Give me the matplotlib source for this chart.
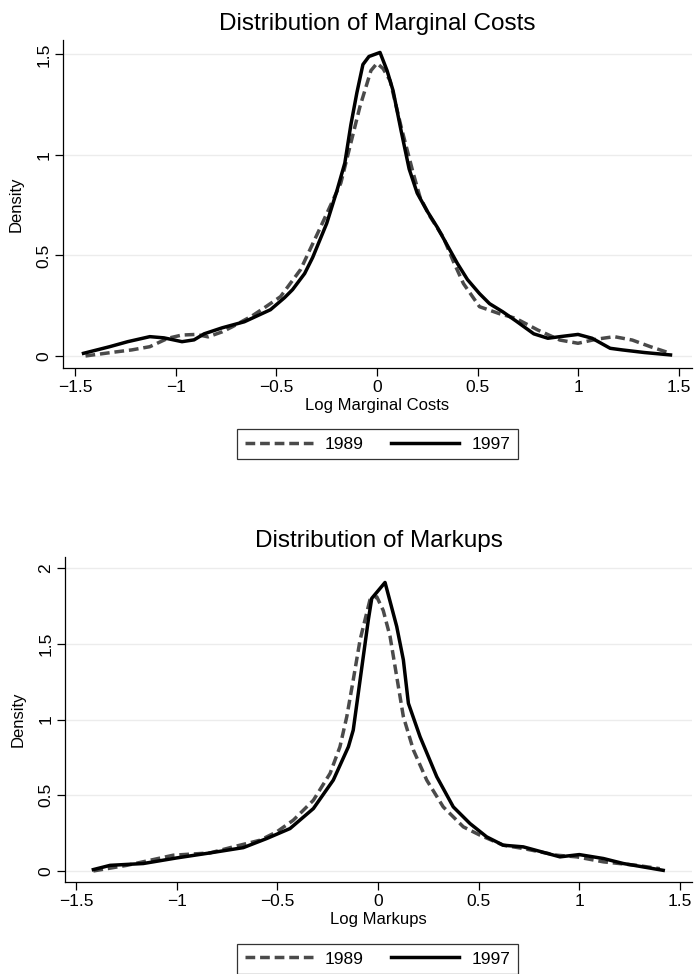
import numpy as np
import matplotlib.pyplot as plt

plt.rcParams['font.family'] = ['Liberation Sans', 'DejaVu Sans']

# Distribution of log marginal costs (kernel densities)
mc_x_1989 = [-1.45, -1.30, -1.22, -1.13, -1.04, -0.97, -0.90, -0.84, -0.77, -0.72,
             -0.62, -0.56, -0.48, -0.38, -0.28, -0.18, -0.085, -0.03, 0.0, 0.03,
             0.065, 0.12, 0.18, 0.214, 0.26, 0.33, 0.38, 0.43, 0.51, 0.61,
             0.69, 0.80, 0.91, 1.0, 1.09, 1.18, 1.27, 1.36, 1.46]
mc_y_1989 = [0.0, 0.02, 0.03, 0.046, 0.088, 0.104, 0.107, 0.095, 0.12, 0.145,
             0.2, 0.24, 0.295, 0.43, 0.643, 0.86, 1.24, 1.42, 1.456, 1.43,
             1.37, 1.14, 0.91, 0.79, 0.70, 0.59, 0.47, 0.36, 0.245, 0.21,
             0.187, 0.129, 0.079, 0.063, 0.083, 0.096, 0.079, 0.046, 0.013]
mc_x_1997 = [-1.46, -1.33, -1.24, -1.13, -1.06, -0.97, -0.91, -0.86, -0.77, -0.66,
             -0.53, -0.46, -0.42, -0.36, -0.32, -0.25, -0.20, -0.16, -0.13, -0.10,
             -0.07, -0.04, 0.015, 0.05, 0.08, 0.12, 0.16, 0.20, 0.25, 0.30,
             0.35, 0.40, 0.45, 0.51, 0.56, 0.625, 0.69, 0.78, 0.85, 0.91,
             1.0, 1.07, 1.16, 1.22, 1.33, 1.46]
mc_y_1997 = [0.013, 0.046, 0.071, 0.096, 0.09, 0.071, 0.08, 0.11, 0.14, 0.17,
             0.23, 0.29, 0.33, 0.41, 0.49, 0.66, 0.82, 0.96, 1.15, 1.31,
             1.45, 1.49, 1.51, 1.42, 1.32, 1.12, 0.93, 0.81, 0.72, 0.64,
             0.55, 0.46, 0.38, 0.31, 0.26, 0.22, 0.175, 0.11, 0.088, 0.096,
             0.107, 0.088, 0.038, 0.03, 0.017, 0.005]

# Distribution of log markups
mu_x_1989 = [-1.414, -1.248, -1.017, -0.835, -0.719, -0.586, -0.503, -0.421, -0.321, -0.238,
             -0.189, -0.155, -0.123, -0.089, -0.040, -0.006, 0.026, 0.06, 0.093, 0.126,
             0.176, 0.242, 0.324, 0.424, 0.507, 0.622, 0.722, 0.888, 0.987, 1.12,
             1.285, 1.40]
mu_y_1989 = [0.0, 0.037, 0.104, 0.119, 0.159, 0.203, 0.258, 0.335, 0.467, 0.644,
             0.82, 1.019, 1.261, 1.526, 1.79, 1.81, 1.72, 1.548, 1.283, 1.019,
             0.798, 0.6, 0.423, 0.291, 0.236, 0.17, 0.148, 0.104, 0.093, 0.06,
             0.037, 0.015]
mu_x_1997 = [-1.414, -1.331, -1.166, -1.0, -0.835, -0.669, -0.553, -0.437, -0.321, -0.222,
             -0.147, -0.123, -0.098, -0.073, -0.048, -0.031, 0.035, 0.093, 0.126, 0.151,
             0.209, 0.292, 0.374, 0.457, 0.54, 0.622, 0.722, 0.904, 1.0, 1.12,
             1.219, 1.417]
mu_y_1997 = [0.009, 0.037, 0.049, 0.086, 0.119, 0.154, 0.214, 0.28, 0.412, 0.6,
             0.82, 0.93, 1.173, 1.416, 1.658, 1.80, 1.905, 1.614, 1.394, 1.107,
             0.886, 0.622, 0.423, 0.313, 0.225, 0.17, 0.159, 0.093, 0.108, 0.082,
             0.049, 0.004]

x_ticks = [-1.5, -1, -0.5, 0, 0.5, 1, 1.5]
x_tick_labels = ['\u22121.5', '\u22121', '\u22120.5', '0', '0.5', '1', '1.5']
mc_y_ticks = [0, 0.5, 1, 1.5]
mu_y_ticks = [0, 0.5, 1, 1.5, 2]

fig = plt.figure(figsize=(6.98, 9.74), dpi=100)
W, H = 698, 974


def panel(rect_px, title, xlabel, x89, y89, x97, y97, yticks, xlim, ylim, legend_y):
    l, t, r, b = rect_px
    ax = fig.add_axes([l / W, 1 - b / H, (r - l) / W, (b - t) / H])
    ln89, = ax.plot(x89, y89, color='#4a4a4a', lw=2.5, dashes=(2.8, 1.4), label='1989')
    ln97, = ax.plot(x97, y97, color='black', lw=2.5, label='1997')
    ax.set_xlim(*xlim)
    ax.set_ylim(*ylim)
    ax.set_xticks(x_ticks)
    ax.set_xticklabels(x_tick_labels)
    ax.set_yticks(yticks)
    ax.set_yticklabels([('%g' % v) for v in yticks], rotation=90, va='center')
    ax.tick_params(axis='both', direction='out', length=5.5, width=0.9,
                   labelsize=12.5, color='black', pad=3)
    ax.grid(axis='y', color='#ececec', lw=1)
    ax.set_axisbelow(True)
    for s in ['top', 'right']:
        ax.spines[s].set_visible(False)
    for s in ['left', 'bottom']:
        ax.spines[s].set_linewidth(0.9)
    ax.set_title(title, fontsize=17.5, pad=7)
    ax.set_xlabel(xlabel, fontsize=12, labelpad=2)
    ax.set_ylabel('Density', fontsize=12, labelpad=9)
    leg = ax.legend(handles=[ln89, ln97], loc='center', ncol=2,
                    bbox_to_anchor=(377.5 / W, 1 - legend_y / H),
                    bbox_transform=fig.transFigure, fontsize=12.5,
                    handlelength=3.9, handletextpad=0.7, columnspacing=1.6,
                    borderpad=0.45, fancybox=False, frameon=True)
    leg.get_frame().set_edgecolor('black')
    leg.get_frame().set_linewidth(0.9)
    return ax


panel((63, 40, 692, 368), 'Distribution of Marginal Costs', 'Log Marginal Costs',
      mc_x_1989, mc_y_1989, mc_x_1997, mc_y_1997, mc_y_ticks,
      (-1.562, 1.567), (-0.06, 1.572), 444)
panel((65, 557, 692, 882), 'Distribution of Markups', 'Log Markups',
      mu_x_1989, mu_y_1989, mu_x_1997, mu_y_1997, mu_y_ticks,
      (-1.555, 1.56), (-0.073, 2.073), 959)

fig.savefig('out.png', dpi=100)
